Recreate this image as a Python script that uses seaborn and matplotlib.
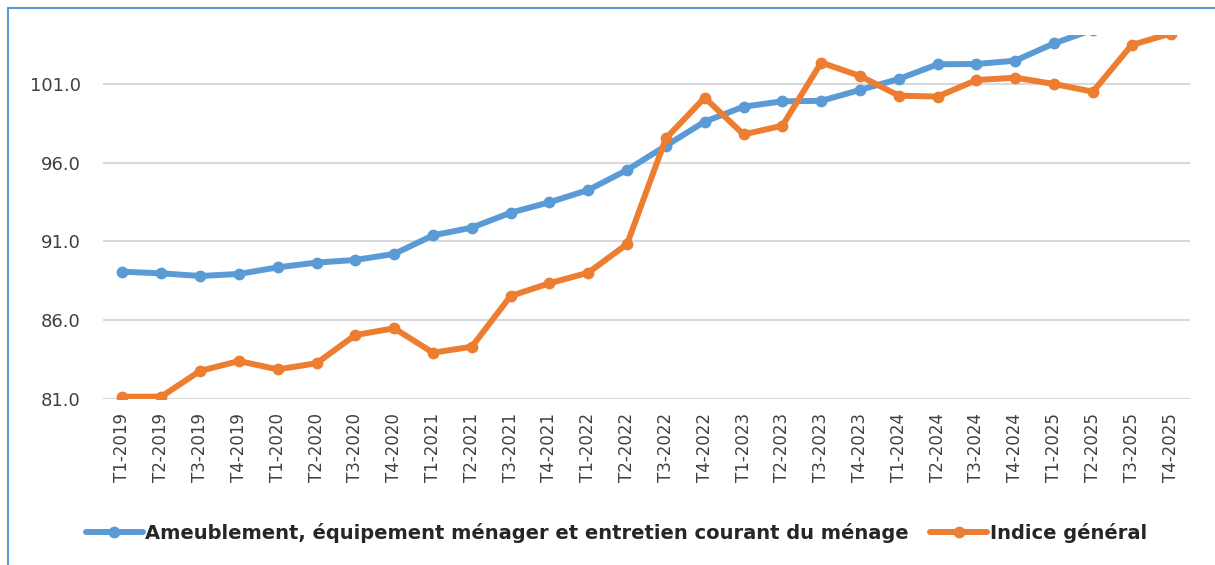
import numpy as np
import pandas as pd
import matplotlib
matplotlib.use("Agg")
import matplotlib.pyplot as plt
import seaborn as sns
from matplotlib.patches import Rectangle

periodes = [f"T{q}-{y}" for y in range(2019, 2026) for q in range(1, 5)]

ameublement = [89.08, 88.98, 88.81, 88.94, 89.36, 89.66, 89.83, 90.21,
               91.39, 91.88, 92.83, 93.49, 94.27, 95.54, 97.08, 98.61,
               99.56, 99.90, 99.93, 100.62, 101.32, 102.25, 102.27, 102.48,
               103.58, 104.45, np.nan, np.nan]
indice_general = [81.15, 81.15, 82.78, 83.41, 82.88, 83.27, 85.06, 85.49,
                  83.94, 84.32, 87.54, 88.35, 89.02, 90.84, 97.55, 100.13,
                  97.80, 98.35, 102.36, 101.51, 100.26, 100.20, 101.25, 101.40,
                  101.00, 100.51, 103.48, 104.2]

serie_a = "Ameublement, équipement ménager et entretien courant du ménage"
serie_b = "Indice général"

df = pd.DataFrame({
    "periode": periodes * 2,
    "valeur": ameublement + indice_general,
    "serie": [serie_a] * len(periodes) + [serie_b] * len(periodes),
})

yticks = [81.0, 86.0, 91.0, 96.0, 101.0]

sns.set_theme(style="white")
plt.rcParams["font.family"] = ["DejaVu Sans"]

fig = plt.figure(figsize=(12.15, 5.65), dpi=100)
ax = fig.add_axes([0.0848, 0.2938, 0.8946, 0.6434])

sns.lineplot(data=df, x="periode", y="valeur", hue="serie",
             palette={serie_a: "#5B9BD5", serie_b: "#ED7D31"},
             marker="o", markersize=8.5, markeredgewidth=0, linewidth=4.3,
             sort=False, ax=ax, legend=True)

ax.set_ylim(81.0, 104.08)
ax.set_xlim(-0.5, len(periodes) - 0.5)
ax.set_yticks(yticks)
ax.set_yticklabels([f"{v:.1f}" for v in yticks], fontsize=13, color="#404040")
ax.set_xticks(range(len(periodes)))
ax.set_xticklabels(periodes, rotation=90, fontsize=12, color="#404040")
ax.tick_params(axis="y", length=0, pad=16)
ax.tick_params(axis="x", length=0, pad=10)
ax.set_xlabel("")
ax.set_ylabel("")
for s in ax.spines.values():
    s.set_visible(False)
ax.yaxis.grid(True, color="#D9D9D9", linewidth=1.5)
ax.xaxis.grid(False)
ax.set_axisbelow(True)

leg = ax.legend(loc="center", bbox_to_anchor=(0.5074, 0.0566), bbox_transform=fig.transFigure,
                ncol=2, frameon=False, handlelength=2.9, columnspacing=1.1,
                handletextpad=0.15, prop={"weight": "bold", "size": 14})
for t in leg.get_texts():
    t.set_color("#262626")

fig.patches.append(Rectangle((8 / 1215, -0.1), 1.2, 1 - 8 / 565 + 0.1,
                             transform=fig.transFigure, fill=False,
                             edgecolor="#5B9BD5", linewidth=1.5))

fig.savefig("out.png", dpi=100)
